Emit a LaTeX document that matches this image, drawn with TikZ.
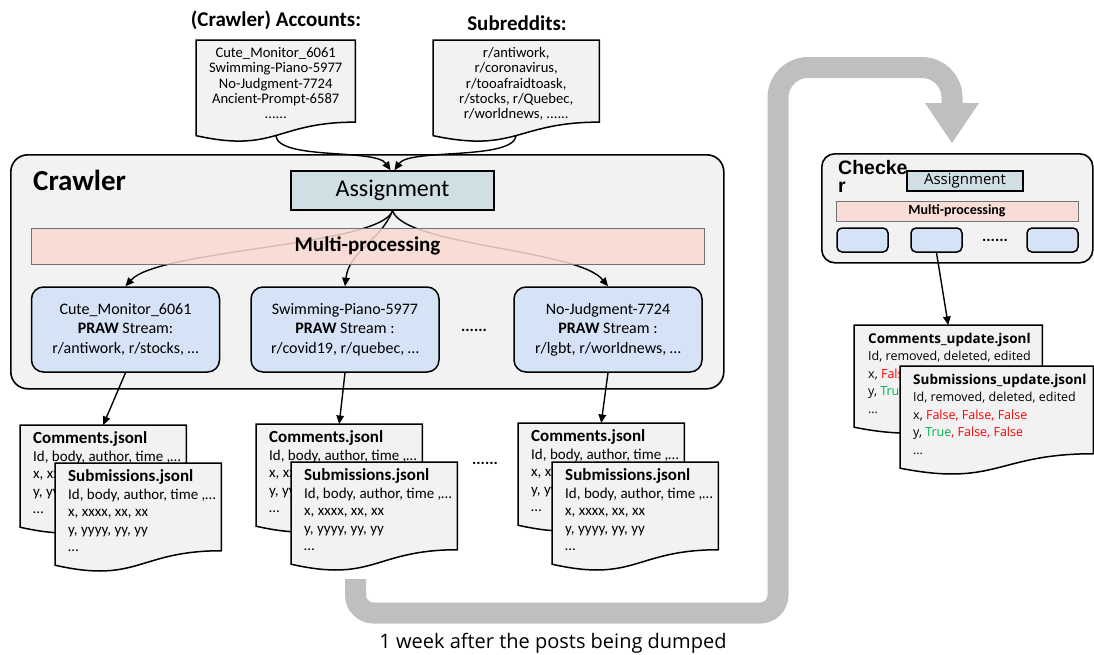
\documentclass[tikz,border=0pt]{standalone}
\usepackage{fontspec}
\setmainfont{Carlito}
\newfontfamily\arialf{Liberation Sans}
\newfontfamily\osf{Open Sans}
\usetikzlibrary{calc,arrows.meta}
\definecolor{panelgray}{HTML}{F2F2F2}
\definecolor{assigncol}{HTML}{D0DFE4}
\definecolor{multicol}{HTML}{F9DAD2}
\definecolor{streamcol}{HTML}{D6E2F5}
\definecolor{bigarrow}{HTML}{BFBFBF}
\definecolor{falsered}{HTML}{FF0000}
\definecolor{truegreen}{HTML}{00B050}
\newcommand\fsz[2]{\fontsize{#1}{#2}\selectfont}
\newcommand\docpath[1]{%
  \draw[docline] (#1.north west) -- (#1.north east)
    -- ($(#1.north east)!0.802!(#1.south east)$)
    .. controls ($(#1.north)!0.802!(#1.south)$) and ($(#1.north)!1.107!(#1.south)$)
    .. ($(#1.north west)!0.934!(#1.south west)$) -- cycle;}
\newcommand\commtext{{\fsz{17}{17.5}\bfseries Comments.jsonl}\\Id, body, author, time ,…\\x, xx\\y, yy\\…}
\newcommand\subtext{{\fsz{17}{17.5}\bfseries Submissions.jsonl}\\Id, body, author, time ,…\\x, xxxx, xx, xx\\y, yyyy, yy, yy\\…}
\tikzset{
  docline/.style={draw=black, line width=1.5pt, fill=panelgray, line join=miter},
  docarea/.style={draw=none, inner sep=0pt, anchor=north west},
  doctext/.style={anchor=north west, align=left, inner sep=0pt, font=\fsz{15}{17.5}},
  updtext/.style={anchor=north west, align=left, inner sep=0pt, font=\osf\fsz{12.5}{17.5}},
  arr/.style={line width=1.4pt, -{Triangle[length=8.5pt,width=7.5pt]}},
  panelbox/.style={draw=black, line width=1.6pt, fill=panelgray, inner sep=0pt, anchor=north west},
  assignbox/.style={draw=black, line width=1.5pt, fill=assigncol, inner sep=0pt},
  multibar/.style={draw=black!55, line width=1pt, fill=multicol, fill opacity=0.86, text opacity=1, inner sep=0pt},
  streambox/.style={draw=black, line width=1.5pt, fill=streamcol, rounded corners=12pt, minimum width=188pt, minimum height=85pt, align=center, inner sep=0pt, font=\fsz{16}{19.5}},
  smallbox/.style={draw=black, line width=1.5pt, fill=streamcol, rounded corners=5pt, minimum width=51pt, minimum height=24pt, inner sep=0pt},
  toptitle/.style={font=\fsz{21}{24}\bfseries},
  listtext/.style={anchor=north, align=center, inner sep=0pt, font=\fsz{14.6}{15.4}},
  dots/.style={font=\fsz{16}{18}\bfseries, inner sep=0pt}
}
\begin{document}
\begin{tikzpicture}[x=1pt,y=-1pt]
\useasboundingbox (0,0) rectangle (1094,654);

% big gray arrow
\coordinate (gastart) at (355.5,579);
\coordinate (gatip) at (952,143);
\draw[bigarrow, line width=21pt] (gastart) [rounded corners=18pt] -- (355.5,613) -- (778,613) [rounded corners=30pt] -- (778,67.5) -- (952,67.5) [sharp corners] -- (952,104);
\fill[bigarrow] (925,103) -- (979,103) -- (gatip) -- cycle;

% titles and source documents
\node[toptitle] (acctitle) at (276,20) {(Crawler) Accounts:};
\node[toptitle] (subtitle) at (517,23) {Subreddits:};
\node[docarea, minimum width=159pt, minimum height=102pt] (acc) at (196,40) {};
\docpath{acc}
\node[listtext] (acct) at ($(acc.north)+(0,7)$) {Cute\_Monitor\_6061\\Swimming-Piano-5977\\No-Judgment-7724\\Ancient-Prompt-6587\\......};
\node[docarea, minimum width=166pt, minimum height=102pt] (sub) at (433,40) {};
\docpath{sub}
\node[listtext] (subt) at ($(sub.north)+(0,7)$) {r/antiwork,\\r/coronavirus,\\r/tooafraidtoask,\\r/stocks, r/Quebec,\\r/worldnews, ......};

% crawler panel
\node[panelbox, rounded corners=17pt, minimum width=713pt, minimum height=234pt] (crawler) at (10,154) {};
\node[anchor=west, inner sep=0pt, font=\fsz{29}{32}\bfseries] (crawlerlbl) at (33,180) {Crawler};

\coordinate (accw) at ($(acc.north)!0.933!(acc.south)$);
\coordinate (subw) at ($(sub.north)!0.933!(sub.south)$);
\node[assignbox, minimum width=203pt, minimum height=39pt, font=\fsz{24}{26}] (as) at (392.5,190.5) {Assignment};
\draw[arr] (accw) .. controls +(3,25) and +(-15,-22) .. ($(as.north)+(-2,0)$);
\draw[arr] (subw) .. controls +(-3,25) and +(15,-22) .. ($(as.north)+(2,0)$);

\node[streambox] (s1) at (125.5,329.5) {Cute\_Monitor\_6061\\\textbf{PRAW} Stream:\\r/antiwork, r/stocks, …};
\node[streambox] (s2) at (345,329.5) {Swimming-Piano-5977\\\textbf{PRAW} Stream :\\r/covid19, r/quebec, …};
\node[streambox] (s3) at (608,329.5) {No-Judgment-7724\\\textbf{PRAW} Stream :\\r/lgbt, r/worldnews, …};
\node[dots] (sdots) at (474,330) {......};

\draw[arr] (as.south) .. controls +(-12,35) and +(33,-37) .. (s1.north);
\draw[arr] (as.south) .. controls +(-12,30) and +(4,-35) .. (s2.north);
\draw[arr] (as.south) .. controls +(12,35) and +(-30,-37) .. (s3.north);

\node[multibar, minimum width=673pt, minimum height=36pt, font=\fsz{21}{24}\bfseries] (mp) at (367.5,246) {Multi-processing};

% output documents
\node[docarea, minimum width=166pt, minimum height=109pt] (c1) at (20,425) {};
\node[docarea, minimum width=166pt, minimum height=109pt] (c2) at (256,424) {};
\node[docarea, minimum width=166pt, minimum height=109pt] (c3) at (518,423) {};
\draw[arr] (s1.south) -- (c1.north);
\draw[arr] (s2.south) -- (c2.north);
\draw[arr] (s3.south) -- (c3.north);

\docpath{c1}
\node[doctext] (c1t) at ($(c1.north west)+(13,6.5)$) {\commtext};
\node[docarea, minimum width=166pt, minimum height=109pt] (u1) at (55,463) {};
\docpath{u1}
\node[doctext] (u1t) at ($(u1.north west)+(13,6.5)$) {\subtext};

\docpath{c2}
\node[doctext] (c2t) at ($(c2.north west)+(13,6.5)$) {\commtext};
\node[docarea, minimum width=166pt, minimum height=109pt] (u2) at (291,462) {};
\docpath{u2}
\node[doctext] (u2t) at ($(u2.north west)+(13,6.5)$) {\subtext};

\docpath{c3}
\node[doctext] (c3t) at ($(c3.north west)+(13,6.5)$) {\commtext};
\node[docarea, minimum width=166pt, minimum height=109pt] (u3) at (552,462) {};
\docpath{u3}
\node[doctext] (u3t) at ($(u3.north west)+(13,6.5)$) {\subtext};

\node[dots] (ddots) at (485,463) {......};

% checker panel
\node[panelbox, rounded corners=13pt, minimum width=271pt, minimum height=109pt] (checker) at (821,153) {};
\node[assignbox, minimum width=116pt, minimum height=20pt, font=\osf\fsz{15}{17}] (cas) at (965,181) {Assignment};
\node[anchor=north west, align=left, inner sep=0pt, font=\arialf\bfseries\fsz{19.5}{18}] (checkerlbl) at (838,160) {Checke\\r};
\node[multibar, minimum width=242pt, minimum height=20pt, font=\fsz{14}{16}\bfseries] (cmp) at (957,211) {Multi-processing};
\node[smallbox] (k1) at (862.5,240) {};
\node[smallbox] (k2) at (936.5,240) {};
\node[smallbox] (k3) at (1052.5,240) {};
\node[dots] (kdots) at (995,240) {......};

\node[docarea, minimum width=188pt, minimum height=109pt] (cu) at (854,325) {};
\draw[arr] (k2.south) -- (cu.north);
\docpath{cu}
\node[updtext] (cut) at ($(cu.north west)+(14,8)$) {{\fsz{13.5}{17.5}\bfseries Comments\_update.jsonl}\\Id, removed, deleted, edited\\x, \textcolor{falsered}{False}\\y, \textcolor{truegreen}{True}\\…};
\node[docarea, minimum width=193pt, minimum height=109pt] (su) at (900,366) {};
\docpath{su}
\node[updtext] (sut) at ($(su.north west)+(13,8)$) {{\fsz{13.5}{17.5}\bfseries Submissions\_update.jsonl}\\Id, removed, deleted, edited\\x, \textcolor{falsered}{False, False, False}\\y, \textcolor{truegreen}{True}\textcolor{falsered}{, False, False}\\…};

% caption
\node[anchor=base, inner sep=0pt, font=\osf\fsz{20}{22}] (caption) at (553,648) {1 week after the posts being dumped};
\end{tikzpicture}
\end{document}
